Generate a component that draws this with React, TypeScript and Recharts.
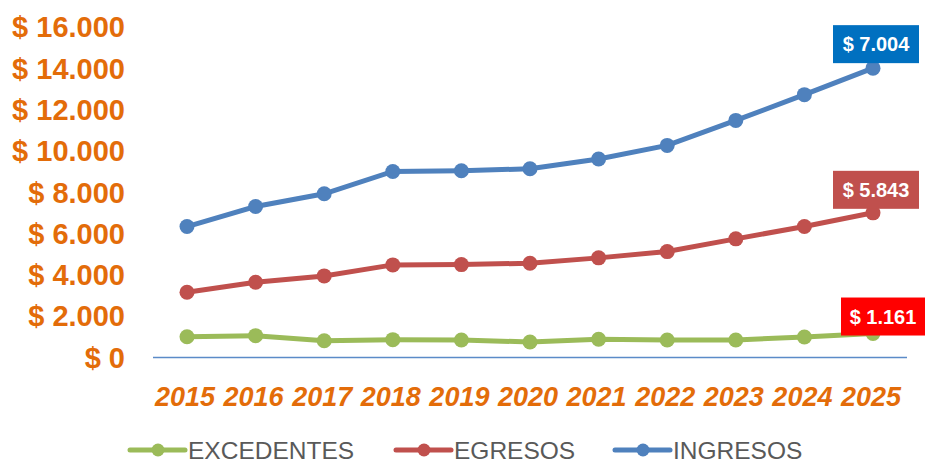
import React from 'react';
import { LineChart, Line, XAxis, YAxis, Legend } from 'recharts';

const years = ['2015', '2016', '2017', '2018', '2019', '2020', '2021', '2022', '2023', '2024', '2025'];
const excedentes = [1008, 1057, 814, 863, 848, 751, 882, 848, 848, 994, 1161];
const egresos = [2152, 2588, 3136, 3621, 3650, 3815, 3941, 4280, 4896, 5346, 5843];
const ingresos = [3180, 3665, 3975, 4522, 4542, 4571, 4784, 5139, 5734, 6384, 7004];
const yTicks = [0, 2000, 4000, 6000, 8000, 10000, 12000, 14000, 16000];

// stacked line table (each series drawn on top of the previous ones)
const data = years.map((y, i) => ({
  year: y,
  EXCEDENTES: excedentes[i],
  EGRESOS: excedentes[i] + egresos[i],
  INGRESOS: excedentes[i] + egresos[i] + ingresos[i],
}));

const ORANGE = '#E36C09';
const GREEN = '#9BBB59';
const RED = '#C0504D';
const BLUE = '#4F81BD';
const FONT = "'Liberation Sans', Arial, sans-serif";

const fmt = (v: number) => {
  if (v === 0) return '$ 0';
  const s = String(Math.round(v));
  return '$ ' + s.replace(/\B(?=(\d{3})+(?!\d))/g, '.');
};

const makeLabel = (values: number[], boxColor: string, dx: number, dy: number, w: number) => (props: any) => {
  const { x, y, index } = props;
  if (index !== values.length - 1) return null;
  const cx = x + dx;
  const cy = y + dy;
  return (
    <g>
      <rect x={cx - w / 2} y={cy - 19} width={w} height={38} fill={boxColor} />
      <text
        x={cx}
        y={cy}
        dy="0.36em"
        textAnchor="middle"
        fill="#FFFFFF"
        fontFamily={FONT}
        fontWeight="bold"
        fontSize={20}
      >
        {fmt(values[index])}
      </text>
    </g>
  );
};

const XTick = (props: any) => {
  const { x, y, payload } = props;
  return (
    <text
      x={x - 2}
      y={y}
      textAnchor="middle"
      fill={ORANGE}
      fontFamily={FONT}
      fontWeight="bold"
      fontStyle="italic"
      fontSize={27}
    >
      {payload.value}
    </text>
  );
};

const legendPos: Record<string, number> = { EXCEDENTES: 130, EGRESOS: 396, INGRESOS: 615 };

const LegendContent = (props: any) => {
  const { payload } = props;
  return (
    <svg width={907} height={40} style={{ display: 'block', overflow: 'visible' }}>
      {(payload || []).map((p: any) => {
        const x0 = legendPos[p.value] ?? 0;
        const cy = 26;
        return (
          <g key={p.value}>
            <line x1={x0} y1={cy} x2={x0 + 55} y2={cy} stroke={p.color} strokeWidth={5} strokeLinecap="round" />
            <circle cx={x0 + 28} cy={cy} r={6.5} fill={p.color} />
            <text x={x0 + 58} y={cy} dy="0.36em" fill="#595959" fontFamily={FONT} fontSize={24.5}>
              {p.value}
            </text>
          </g>
        );
      })}
    </svg>
  );
};

export default function App() {
  return (
    <div style={{ position: 'absolute', left: 0, top: 0, width: 927, height: 464, background: '#fff' }}>
      <LineChart width={927} height={464} data={data} margin={{ top: 27, right: 20, bottom: 0, left: 0 }}>
        <XAxis
          dataKey="year"
          padding={{ left: 34, right: 34 }}
          axisLine={{ stroke: '#5B8BC8', strokeWidth: 1.5 }}
          tickLine={false}
          tickSize={0}
          tickMargin={48}
          height={66.5}
          interval={0}
          tick={<XTick />}
        />
        <YAxis
          width={153}
          domain={[0, 16000]}
          ticks={yTicks}
          axisLine={false}
          tickLine={false}
          tickSize={0}
          tickMargin={28}
          tickFormatter={fmt}
          tick={{ fill: ORANGE, fontSize: 29, fontWeight: 'bold', fontFamily: FONT }}
        />
        <Legend verticalAlign="bottom" height={40} content={<LegendContent />} />
        <Line
          type="linear"
          dataKey="EXCEDENTES"
          stroke={GREEN}
          strokeWidth={5}
          dot={{ r: 7.5, fill: GREEN, stroke: GREEN, strokeWidth: 0 }}
          activeDot={false}
          isAnimationActive={false}
          label={makeLabel(excedentes, '#FF0000', 10, -17, 84)}
        />
        <Line
          type="linear"
          dataKey="EGRESOS"
          stroke={RED}
          strokeWidth={5}
          dot={{ r: 7.5, fill: RED, stroke: RED, strokeWidth: 0 }}
          activeDot={false}
          isAnimationActive={false}
          label={makeLabel(egresos, RED, 3, -23, 86)}
        />
        <Line
          type="linear"
          dataKey="INGRESOS"
          stroke={BLUE}
          strokeWidth={5}
          dot={{ r: 7.5, fill: BLUE, stroke: BLUE, strokeWidth: 0 }}
          activeDot={false}
          isAnimationActive={false}
          label={makeLabel(ingresos, '#0070C0', 3, -24, 86)}
        />
      </LineChart>
    </div>
  );
}
